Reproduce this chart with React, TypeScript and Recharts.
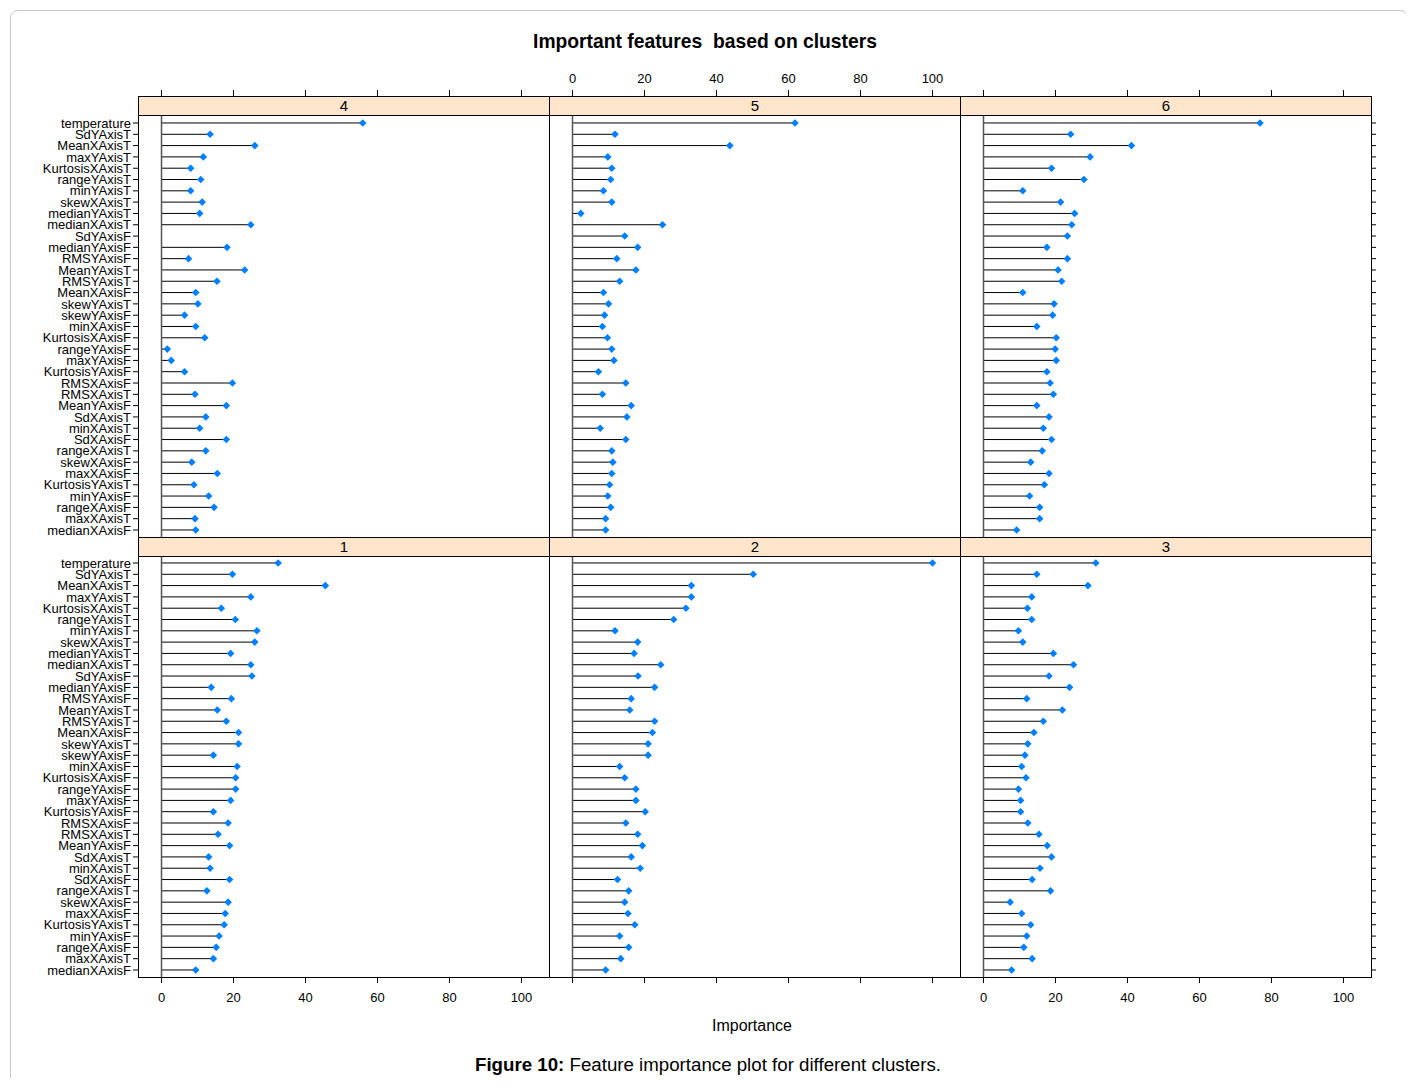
import React from "react";
import { ComposedChart, Bar, XAxis, YAxis, ReferenceLine } from "recharts";

const features = [
  "temperature", "SdYAxisT", "MeanXAxisT", "maxYAxisT", "KurtosisXAxisT", "rangeYAxisT",
  "minYAxisT", "skewXAxisT", "medianYAxisT", "medianXAxisT", "SdYAxisF", "medianYAxisF",
  "RMSYAxisF", "MeanYAxisT", "RMSYAxisT", "MeanXAxisF", "skewYAxisT", "skewYAxisF",
  "minXAxisF", "KurtosisXAxisF", "rangeYAxisF", "maxYAxisF", "KurtosisYAxisF", "RMSXAxisF",
  "RMSXAxisT", "MeanYAxisF", "SdXAxisT", "minXAxisT", "SdXAxisF", "rangeXAxisT",
  "skewXAxisF", "maxXAxisF", "KurtosisYAxisT", "minYAxisF", "rangeXAxisF", "maxXAxisT",
  "medianXAxisF",
];

// importance per cluster, same order as features
const cluster1 = [
  32.4, 19.7, 45.5, 24.8, 16.6, 20.5, 26.5, 25.9, 19.2, 24.8, 25.1, 13.8,
  19.4, 15.5, 18.0, 21.4, 21.4, 14.4, 21.0, 20.6, 20.6, 19.2, 14.4, 18.5,
  15.7, 18.9, 13.1, 13.5, 18.9, 12.6, 18.5, 17.7, 17.4, 16.0, 15.2, 14.4, 9.5,
];
const cluster2 = [
  100.0, 50.2, 33.0, 33.0, 31.5, 28.1, 11.8, 18.1, 17.1, 24.5, 18.2, 22.8,
  16.3, 15.9, 22.8, 22.2, 21.0, 21.0, 13.1, 14.5, 17.6, 17.6, 20.2, 14.8,
  18.1, 19.4, 16.3, 18.8, 12.5, 15.6, 14.5, 15.4, 17.3, 13.1, 15.6, 13.4, 9.2,
];
const cluster3 = [
  31.2, 14.8, 29.0, 13.4, 12.2, 13.4, 9.7, 10.9, 19.4, 25.0, 18.2, 23.9,
  12.0, 21.9, 16.6, 14.0, 12.3, 11.5, 10.6, 11.8, 9.7, 10.3, 10.3, 12.3,
  15.4, 17.7, 18.9, 15.7, 13.5, 18.6, 7.4, 10.6, 13.1, 12.0, 11.2, 13.5, 7.8,
];
const cluster4 = [
  55.9, 13.5, 25.9, 11.6, 8.1, 10.9, 8.1, 11.3, 10.6, 24.8, null, 18.2,
  7.5, 23.1, 15.4, 9.5, 10.1, 6.4, 9.5, 12.0, 1.6, 2.7, 6.4, 19.7,
  9.3, 18.0, 12.3, 10.6, 18.0, 12.3, 8.4, 15.5, 9.0, 13.1, 14.6, 9.3, 9.5,
];
const cluster5 = [
  61.8, 11.8, 43.7, 9.8, 10.9, 10.6, 8.6, 10.9, 2.3, 25.0, 14.5, 18.1,
  12.3, 17.6, 13.1, 8.6, 10.0, 8.9, 8.3, 9.7, 10.9, 11.5, 7.2, 14.8,
  8.3, 16.3, 15.1, 7.7, 14.8, 10.9, 11.2, 10.9, 10.3, 9.8, 10.6, 9.2, 9.2,
];
const cluster6 = [
  76.8, 24.2, 41.1, 29.6, 18.9, 27.9, 10.9, 21.4, 25.3, 24.5, 23.3, 17.6,
  23.3, 20.7, 21.7, 10.9, 19.6, 19.2, 14.8, 20.2, 19.9, 20.2, 17.6, 18.5,
  19.4, 14.8, 18.2, 16.6, 18.9, 16.3, 13.1, 18.2, 16.9, 12.8, 15.6, 15.6, 9.2,
];

const xTicks = [0, 20, 40, 60, 80, 100];
const xDomain = [-6.53, 107.64];

const FONT = "Arial, 'Liberation Sans', sans-serif";
const PANEL_W = 411;
const AXIS_H = 30;
const Y_LABEL_W = 130;

function Lollipop(props: any) {
  const { x, y, width, height, payload } = props;
  if (payload == null || payload.value == null) return null;
  const cy = y + height / 2;
  const x1 = x + width;
  const d = 3.8;
  return (
    <g>
      <line x1={x} y1={cy} x2={x1} y2={cy} stroke="#000" strokeWidth={1} />
      <polygon
        points={`${x1},${cy - d} ${x1 + d},${cy} ${x1},${cy + d} ${x1 - d},${cy}`}
        fill="#0080FF"
      />
    </g>
  );
}

const noTick = () => <g />;

type PanelProps = {
  values: (number | null)[];
  left: number; // page x of panel left edge
  top: number; // page y of strip top
  bodyH: number;
  xSide: "top" | "bottom";
  xLabels: boolean;
  yLeft?: boolean;
  yRight?: boolean;
};

function Panel({ values, left, top, bodyH, xSide, xLabels, yLeft, yRight }: PanelProps) {
  const data = features.map((f, i) => ({ feature: f, value: values[i] }));
  const leftW = yLeft ? Y_LABEL_W : 0;
  const rightW = yRight ? 6 : 0;
  const width = leftW + PANEL_W + rightW;
  const height = bodyH + AXIS_H;
  const chartTop = xSide === "top" ? top - AXIS_H : top;
  const tickStyle = { fontSize: 13, fill: "#000", fontFamily: FONT };
  return (
    <div style={{ position: "absolute", left: left - leftW - 8, top: chartTop - 8 }}>
      <ComposedChart
        layout="vertical"
        width={width}
        height={height}
        data={data}
        margin={{ top: 0, right: 0, bottom: 0, left: 0 }}
      >
        <XAxis
          type="number"
          dataKey="value"
          domain={xDomain}
          allowDataOverflow
          ticks={xTicks}
          orientation={xSide}
          height={AXIS_H}
          axisLine={false}
          tickSize={6}
          tickMargin={xSide === "top" ? 7 : 10}
          tickLine={{ stroke: "#000" }}
          tick={xLabels ? tickStyle : noTick}
        />
        <YAxis
          type="category"
          dataKey="feature"
          orientation={yRight ? "right" : "left"}
          width={yLeft ? Y_LABEL_W : yRight ? 6 : 0}
          hide={!yLeft && !yRight}
          interval={0}
          padding={{ top: 20.35 + (bodyH === 441 ? 1 : 0), bottom: 1.35 }}
          axisLine={false}
          tickSize={5}
          tickMargin={2}
          tickLine={{ stroke: "#000" }}
          tick={yLeft ? tickStyle : noTick}
        />
        <ReferenceLine x={0} stroke="#555" strokeWidth={1.5} />
        <Bar dataKey="value" shape={<Lollipop />} isAnimationActive={false} />
      </ComposedChart>
    </div>
  );
}

function Frame({ left, top, label, bodyH }: { left: number; top: number; label: string; bodyH: number }) {
  return (
    <>
      <div
        style={{
          position: "absolute",
          left: left - 8,
          top: top - 8,
          width: PANEL_W + 1,
          height: bodyH + 1,
          border: "1px solid #000",
          boxSizing: "border-box",
          pointerEvents: "none",
        }}
      />
      <div
        style={{
          position: "absolute",
          left: left - 8,
          top: top - 8,
          width: PANEL_W + 1,
          height: 20,
          border: "1px solid #000",
          boxSizing: "border-box",
          background: "#FFE5CC",
          fontFamily: FONT,
          fontSize: 15,
          lineHeight: "18px",
          textAlign: "center",
          color: "#000",
        }}
      >
        {label}
      </div>
    </>
  );
}

export default function App() {
  const cols = [138, 549, 960];
  const topRow = 96;
  const botRow = 537;
  return (
    <div
      style={{
        position: "relative",
        width: 1398,
        height: 1070,
        overflow: "hidden",
        background: "#fff",
      }}
    >
      <div
        style={{
          position: "absolute",
          left: 2,
          top: 2,
          width: 1398,
          height: 1090,
          border: "1px solid #c8c8c8",
          borderRadius: 8,
          boxSizing: "border-box",
        }}
      />
      <div
        style={{
          position: "absolute",
          left: 0,
          width: 1394,
          top: 23,
          textAlign: "center",
          fontFamily: FONT,
          fontWeight: "bold",
          fontSize: 19.3,
          whiteSpace: "pre",
        }}
      >
        {"Important features  based on clusters"}
      </div>

      <Panel values={cluster4} left={cols[0]} top={topRow} bodyH={441} xSide="top" xLabels={false} yLeft />
      <Panel values={cluster5} left={cols[1]} top={topRow} bodyH={441} xSide="top" xLabels />
      <Panel values={cluster6} left={cols[2]} top={topRow} bodyH={441} xSide="top" xLabels={false} yRight />
      <Panel values={cluster1} left={cols[0]} top={botRow} bodyH={440} xSide="bottom" xLabels yLeft />
      <Panel values={cluster2} left={cols[1]} top={botRow} bodyH={440} xSide="bottom" xLabels={false} />
      <Panel values={cluster3} left={cols[2]} top={botRow} bodyH={440} xSide="bottom" xLabels yRight />

      <Frame left={cols[0]} top={topRow} label="4" bodyH={441} />
      <Frame left={cols[1]} top={topRow} label="5" bodyH={441} />
      <Frame left={cols[2]} top={topRow} label="6" bodyH={441} />
      <Frame left={cols[0]} top={botRow} label="1" bodyH={440} />
      <Frame left={cols[1]} top={botRow} label="2" bodyH={440} />
      <Frame left={cols[2]} top={botRow} label="3" bodyH={440} />

      <div
        style={{
          position: "absolute",
          left: 744 - 100,
          width: 200,
          top: 1009,
          textAlign: "center",
          fontFamily: FONT,
          fontSize: 16,
        }}
      >
        Importance
      </div>
      <div
        style={{
          position: "absolute",
          left: 0,
          width: 1400,
          top: 1046,
          textAlign: "center",
          fontFamily: FONT,
          fontSize: 18.7,
        }}
      >
        <b>Figure 10:</b> Feature importance plot for different clusters.
      </div>
    </div>
  );
}
